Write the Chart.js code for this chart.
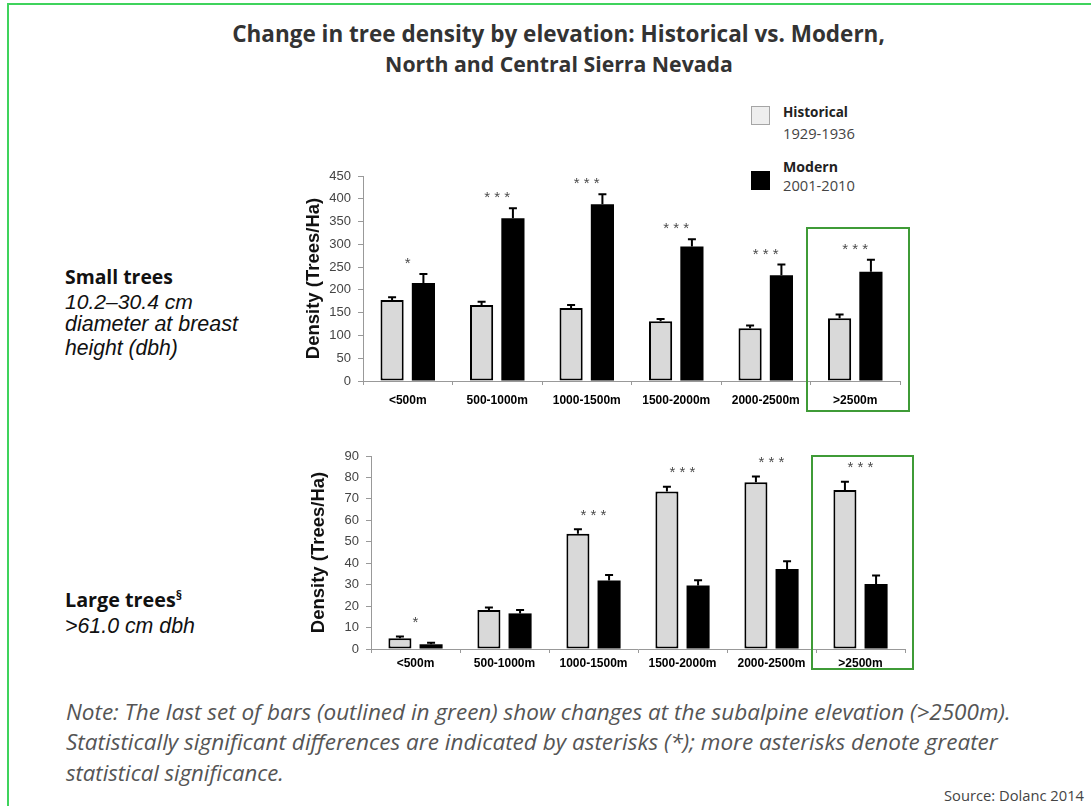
<!DOCTYPE html>
<html><head><meta charset="utf-8">
<script src="https://cdn.jsdelivr.net/npm/chart.js@4.4.0/dist/chart.umd.min.js"></script>
<style>
html,body{margin:0;padding:0;background:#fff;}
body{width:1091px;height:806px;position:relative;overflow:hidden;}
.t{position:absolute;white-space:nowrap;line-height:1;}
.bold{font-family:'Open Sans',sans-serif;font-weight:700;}
.it{font-family:'Liberation Sans',Arial,sans-serif;font-style:italic;}
.note{font-family:'Open Sans',sans-serif;font-style:italic;color:#555;}
.frame{position:absolute;background:#3fd35c;}
.sq{position:absolute;width:19px;height:19px;box-sizing:border-box;}
sup{font-size:0.65em;vertical-align:0.55em;line-height:0;}
canvas{position:absolute;}
</style></head><body>
<div class="frame" style="left:8px;top:3px;width:1083px;height:2px"></div>
<div class="frame" style="left:7px;top:3px;width:2px;height:803px"></div>

<div class="t bold" style="font-size:20px;color:#333" data-x="558.5" data-cy="34" data-w="653" data-a="c">Change in tree density by elevation: Historical vs. Modern,</div>
<div class="t bold" style="font-size:20px;color:#333" data-x="559" data-cy="64" data-w="348" data-a="c">North and Central Sierra Nevada</div>

<div class="sq" style="left:751px;top:106px;background:#eeeeee;border:1px solid #a5a5a5"></div>
<div class="sq" style="left:751px;top:171px;background:#000"></div>
<div class="t bold" style="font-size:14px;color:#222" data-x="783" data-cy="112.5" data-w="65" data-a="l">Historical</div>
<div class="t" style="font-family:'Open Sans';font-size:14px;color:#444" data-x="783" data-cy="133" data-w="72" data-a="l">1929-1936</div>
<div class="t bold" style="font-size:14px;color:#222" data-x="783" data-cy="167" data-w="55" data-a="l">Modern</div>
<div class="t" style="font-family:'Open Sans';font-size:14px;color:#444" data-x="783" data-cy="185.5" data-w="72" data-a="l">2001-2010</div>

<div class="t bold" style="font-size:18px;color:#111" data-x="65" data-cy="277" data-w="108" data-a="l">Small trees</div>
<div class="t it" style="font-size:18px;color:#111" data-x="65" data-cy="302" data-w="128" data-a="l">10.2–30.4 cm</div>
<div class="t it" style="font-size:18px;color:#111" data-x="65" data-cy="325" data-w="173" data-a="l">diameter at breast</div>
<div class="t it" style="font-size:18px;color:#111" data-x="65" data-cy="348" data-w="113" data-a="l">height (dbh)</div>
<div class="t bold" style="font-size:18px;color:#111" data-x="65" data-cy="600" data-w="117" data-a="l">Large trees<sup>§</sup></div>
<div class="t it" style="font-size:18px;color:#111" data-x="65" data-cy="627" data-w="130" data-a="l">&gt;61.0 cm dbh</div>

<div class="t note" style="font-size:18px" data-x="66" data-cy="712" data-w="945" data-a="l">Note: The last set of bars (outlined in green) show changes at the subalpine elevation (&gt;2500m).</div>
<div class="t note" style="font-size:18px" data-x="66" data-cy="742" data-w="932" data-a="l">Statistically significant differences are indicated by asterisks (*); more asterisks denote greater</div>
<div class="t note" style="font-size:18px" data-x="66" data-cy="772" data-w="218" data-a="l">statistical significance.</div>
<div class="t" style="font-family:'Open Sans';font-size:14px;color:#444" data-x="1084" data-cy="795" data-w="140" data-a="r">Source: Dolanc 2014</div>

<canvas id="c1" width="640" height="280" style="left:290px;top:150px"></canvas>
<canvas id="c2" width="640" height="260" style="left:290px;top:430px"></canvas>

<script>
// ---- data ----
const categories = ['<500m', '500-1000m', '1000-1500m', '1500-2000m', '2000-2500m', '>2500m'];
const seriesNames = ['Historical 1929-1936', 'Modern 2001-2010'];

const smallHistorical    = [178, 167, 160, 131, 116, 138];
const smallHistoricalErr = [6, 7, 7, 5, 6, 8];
const smallModern        = [215, 357, 388, 295, 232, 240];
const smallModernErr     = [20, 22, 22, 16, 24, 26];
const smallSignificance  = ['*', '***', '***', '***', '***', '***'];
const smallAxis = { max: 450, step: 50 };

const largeHistorical    = [5, 18.2, 53.8, 73.4, 77.8, 74.2];
const largeHistoricalErr = [0.8, 1.2, 2.0, 2.3, 2.6, 3.8];
const largeModern        = [2.2, 16.6, 32, 29.6, 37.3, 30.3];
const largeModernErr     = [0.7, 1.6, 2.5, 2.5, 3.6, 4.0];
const largeSignificance  = ['*', '', '***', '***', '***', '***'];
const largeAxis = { max: 90, step: 10 };

// ---- text layout ----
document.querySelectorAll('.t').forEach(el => {
  const s0 = parseFloat(el.style.fontSize);
  const w0 = el.getBoundingClientRect().width;
  const W = parseFloat(el.dataset.w);
  const s = s0 * W / w0;
  el.style.fontSize = s + 'px';
  const r = el.getBoundingClientRect();
  const x = parseFloat(el.dataset.x), cy = parseFloat(el.dataset.cy);
  const a = el.dataset.a;
  el.style.left = (a === 'c' ? x - r.width / 2 : a === 'r' ? x - r.width : x) + 'px';
  el.style.top = (cy - r.height / 2) + 'px';
});

// ---- plugins ----
const errorBars = {
  id: 'errorBars',
  afterDatasetsDraw(chart) {
    const ctx = chart.ctx, y = chart.scales.y;
    chart.data.datasets.forEach((ds, i) => {
      chart.getDatasetMeta(i).data.forEach((bar, j) => {
        const top = y.getPixelForValue(ds.data[j] + ds.errors[j]);
        ctx.save();
        ctx.strokeStyle = '#000';
        ctx.lineWidth = 2;
        ctx.beginPath();
        ctx.moveTo(bar.x, bar.y);
        ctx.lineTo(bar.x, top);
        ctx.moveTo(bar.x - 4, top);
        ctx.lineTo(bar.x + 4, top);
        ctx.stroke();
        ctx.restore();
      });
    });
  }
};
const sigMarks = {
  id: 'sigMarks',
  afterDatasetsDraw(chart, args, o) {
    const ctx = chart.ctx, x = chart.scales.x, y = chart.scales.y;
    o.labels.forEach((lab, j) => {
      if (!lab) return;
      let top = Infinity;
      chart.data.datasets.forEach(ds => { top = Math.min(top, y.getPixelForValue(ds.data[j] + ds.errors[j])); });
      ctx.save();
      ctx.fillStyle = '#4a4a4a';
      ctx.font = '15px "Liberation Sans", Arial, sans-serif';
      ctx.textAlign = 'center';
      ctx.textBaseline = 'middle';
      ctx.fillText(lab.split('').join(' '), x.getPixelForValue(j), top - o.offset);
      ctx.restore();
    });
  }
};
const highlightBox = {
  id: 'highlightBox',
  afterDraw(chart, args, o) {
    const ctx = chart.ctx, x = chart.scales.x, a = chart.chartArea;
    const half = (x.getPixelForValue(1) - x.getPixelForValue(0)) / 2;
    const l = x.getPixelForValue(o.index) - half - o.left;
    const r = a.right + o.right, t = a.top + o.top, b = a.bottom + o.bottom;
    ctx.save();
    ctx.strokeStyle = o.color;
    ctx.lineWidth = 2;
    ctx.strokeRect(l, t, r - l, b - t);
    ctx.restore();
  }
};

const FAMILY = "'Liberation Sans', Arial, sans-serif";
Chart.defaults.font.family = FAMILY;

function buildChart(id, hist, histErr, mod, modErr, sig, axis, s) {
  return new Chart(document.getElementById(id), {
    type: 'bar',
    data: {
      labels: categories,
      datasets: [
        { label: seriesNames[0], data: hist, errors: histErr, backgroundColor: '#d9d9d9',
          borderColor: '#000', borderWidth: 2, borderSkipped: false },
        { label: seriesNames[1], data: mod, errors: modErr, backgroundColor: '#000',
          borderColor: '#000', borderWidth: 0 }
      ]
    },
    options: {
      responsive: false, animation: false, devicePixelRatio: 1,
      categoryPercentage: 0.70, barPercentage: 0.74,
      layout: { padding: { left: 0, right: s.padRight, top: s.padTop, bottom: 0 } },
      plugins: {
        legend: { display: false }, tooltip: { enabled: false },
        sigMarks: { labels: sig, offset: s.sigOffset },
        highlightBox: { index: categories.length - 1, left: s.boxL, right: s.boxR, top: s.boxT, bottom: s.boxB, color: '#3f9b37' }
      },
      scales: {
        x: {
          grid: { display: true, drawOnChartArea: false, drawTicks: true, tickLength: 4, color: '#999', offset: true },
          border: { color: '#999', width: 1 },
          ticks: { color: '#000', font: { size: 12, weight: 'bold' }, padding: s.xPad, maxRotation: 0, autoSkip: false },
          afterFit(sc) { sc.height = s.xH; }
        },
        y: {
          min: 0, max: axis.max,
          ticks: { stepSize: axis.step, color: '#444', font: { size: 13 }, padding: 7 },
          grid: { drawOnChartArea: false, tickLength: 5, color: '#999' },
          border: { color: '#999', width: 1 },
          title: { display: true, text: 'Density (Trees/Ha)', color: '#111',
                   font: { size: 18.5, weight: 'bold' }, padding: { top: s.titlePad, bottom: 0 } },
          afterFit(sc) { sc.width = s.yW; }
        }
      }
    },
    plugins: [errorBars, sigMarks, highlightBox]
  });
}

buildChart('c1', smallHistorical, smallHistoricalErr, smallModern, smallModernErr, smallSignificance, smallAxis,
  { padRight: 30, padTop: 26, yW: 73, xH: 49, xPad: 8, titlePad: 13, sigOffset: 10, boxL: 3.5, boxR: 9, boxT: 52, boxB: 30 });
buildChart('c2', largeHistorical, largeHistoricalErr, largeModern, largeModernErr, largeSignificance, largeAxis,
  { padRight: 25, padTop: 26, yW: 81, xH: 41, xPad: 3, titlePad: 18, sigOffset: 13.5, boxL: 4, boxR: 8, boxT: 0, boxB: 20 });
</script>
</body></html>
